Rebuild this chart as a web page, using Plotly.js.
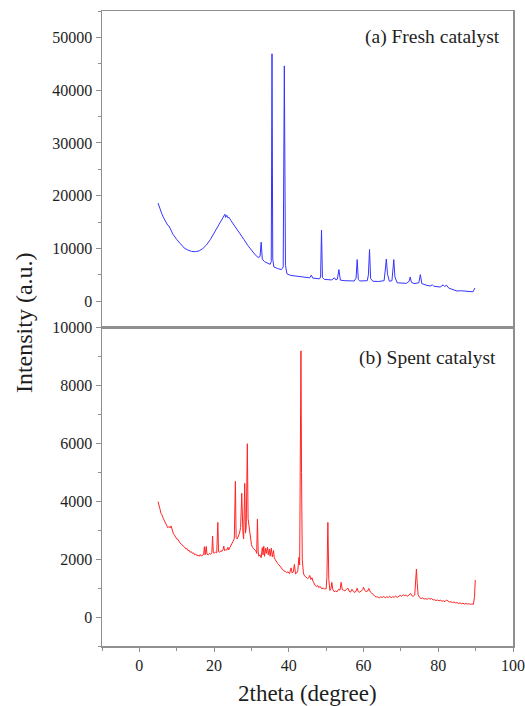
<!DOCTYPE html>
<html>
<head>
<meta charset="utf-8">
<script src="https://cdn.plot.ly/plotly-3.0.1.min.js"></script>
<style>
  html, body { margin: 0; padding: 0; background: #fff; }
  #chart { width: 525px; height: 706px; }
</style>
</head>
<body>
<div id="chart"></div>
<script>
// XRD pattern of the fresh catalyst: 2theta (degree) and intensity (a.u.)
const freshTheta = [
  5.0, 5.5, 6.0, 6.5, 7.0, 7.6, 7.9, 8.2, 9.0, 10.0, 11.0, 12.0, 13.0, 14.0, 15.0,
  16.0, 17.0, 18.0, 19.0, 20.0, 21.0, 22.0, 22.6, 22.9, 23.1, 23.4, 23.7, 24.0, 24.5,
  25.0, 26.0, 27.0, 28.0, 29.0, 30.0, 31.0, 31.8, 32.3, 32.6, 32.9, 33.5, 34.5, 35.0,
  35.3, 35.5, 35.7, 36.0, 37.0, 38.0, 38.5, 38.8, 39.1, 39.5, 40.5, 42.0, 44.0, 45.6,
  46.0, 46.4, 48.2, 48.5, 48.75, 49.0, 49.5, 51.5, 52.2, 52.6, 53.0, 53.4, 53.8, 55.0,
  57.5, 58.0, 58.3, 58.6, 59.0, 61.0, 61.3, 61.6, 61.9, 62.5, 64.0, 65.5, 65.9, 66.1,
  66.4, 66.9, 67.6, 67.9, 68.1, 68.4, 69.0, 71.5, 72.2, 72.5, 72.8, 73.5, 74.8, 75.2,
  75.6, 77.0, 78.0, 78.4, 78.8, 80.5, 81.3, 81.7, 82.2, 82.8, 84.0, 85.0, 86.0, 87.0,
  88.5, 89.3, 89.8
];
const freshIntensity = [
  18600, 17500, 16600, 15800, 15100, 14400, 14300, 13800, 12700, 11700, 10800, 10100, 9700, 9450, 9400,
  9550, 10000, 10700, 11700, 12900, 14100, 15200, 15900, 16500, 15900, 16300, 15800, 15900, 15300,
  14800, 13900, 12800, 11700, 10600, 9600, 8800, 8300, 8500, 11200, 8000, 7500, 7200, 7000,
  7500, 46900, 8000, 6500, 6200, 6000, 6500, 44600, 6800, 5200, 4900, 4750, 4600, 4450,
  4950, 4400, 4250, 4600, 13500, 4500, 4150, 4050, 4450, 4050, 4200, 6000, 4000, 3900,
  3850, 4400, 7900, 4100, 3850, 3900, 5000, 9800, 4300, 3800, 3750, 3900, 6500, 8000,
  5200, 3800, 3900, 6500, 7900, 4600, 3500, 3400, 3800, 4600, 3600, 3350, 3500, 5050,
  3350, 3000, 2900, 3150, 2850, 2700, 3100, 2800, 3050, 2500, 2200, 1950, 2000, 1900,
  1750, 1800, 2500
];

// XRD pattern of the spent catalyst
const spentTheta = [
  5.0, 5.2, 5.5, 5.8, 6.1, 6.4, 6.7, 7.0, 7.3, 7.6, 7.9, 8.2, 8.5, 8.8, 9.1, 9.4, 9.7,
  10.0, 10.3, 10.6, 10.9, 11.2, 11.5, 11.8, 12.1, 12.4, 12.7, 13.0, 13.3, 13.6, 13.9,
  14.2, 14.5, 14.8, 15.1, 15.4, 15.7, 16.0, 16.3, 16.6, 16.9, 17.2, 17.4, 17.6, 17.9,
  18.1, 18.5, 18.8, 19.1, 19.4, 19.6, 19.8, 20.1, 20.4, 20.7, 21.0, 21.2, 21.5, 21.8,
  22.1, 22.4, 22.6, 22.8, 23.1, 23.4, 23.7, 23.9, 24.2, 24.5, 24.8, 25.1, 25.4, 25.7,
  25.9, 26.2, 26.5, 26.8, 27.1, 27.4, 27.7, 27.9, 28.2, 28.4, 28.6, 28.9, 29.1, 29.4,
  29.7, 30.0, 30.3, 30.6, 30.9, 31.2, 31.4, 31.6, 31.8, 32.0, 32.3, 32.6, 32.9, 33.1,
  33.3, 33.5, 33.8, 34.0, 34.3, 34.5, 34.8, 35.0, 35.3, 35.6, 35.9, 36.1, 36.4, 36.7,
  37.0, 37.4, 37.8, 38.2, 38.6, 39.0, 39.4, 39.8, 40.2, 40.6, 40.9, 41.2, 41.5, 41.8,
  42.1, 42.4, 42.7, 42.9, 43.1, 43.25, 43.4, 43.6, 43.9, 44.2, 44.6, 45.0, 45.3, 45.6,
  45.9, 46.2, 46.5, 46.8, 47.1, 47.4, 47.7, 48.0, 48.4, 48.8, 49.2, 49.6, 50.0, 50.2,
  50.45, 50.7, 51.0, 51.3, 51.5, 51.8, 52.1, 52.5, 52.9, 53.3, 53.7, 54.0, 54.3, 54.6,
  55.0, 55.4, 55.8, 56.1, 56.5, 56.9, 57.3, 57.7, 58.0, 58.3, 58.6, 59.0, 59.4, 59.8,
  60.0, 60.3, 60.7, 61.1, 61.4, 61.8, 62.2, 62.6, 63.0, 63.4, 63.8, 64.2, 64.6, 65.0,
  65.4, 65.8, 66.2, 66.6, 67.0, 67.4, 67.8, 68.2, 68.6, 69.0, 69.4, 69.8, 70.2, 70.6,
  71.0, 71.4, 71.8, 72.2, 72.6, 72.9, 73.3, 73.7, 74.0, 74.15, 74.35, 74.6, 75.0, 75.4,
  75.8, 76.2, 76.6, 77.0, 77.4, 77.8, 78.2, 78.6, 79.0, 79.4, 79.8, 80.2, 80.6, 81.0,
  81.4, 81.8, 82.2, 82.6, 83.0, 83.4, 83.8, 84.2, 84.6, 85.0, 85.4, 85.8, 86.2, 86.6,
  87.0, 87.4, 87.8, 88.2, 88.6, 89.0, 89.4, 89.7, 89.9
];
const spentIntensity = [
  3990, 3850, 3740, 3580, 3520, 3410, 3340, 3270, 3200, 3090, 3130, 3080, 3150, 3000, 2880, 2830, 2760,
  2700, 2690, 2600, 2560, 2520, 2490, 2430, 2420, 2360, 2370, 2300, 2310, 2240, 2260,
  2200, 2220, 2150, 2180, 2120, 2140, 2100, 2160, 2110, 2140, 2160, 2430, 2150, 2440,
  2170, 2150, 2200, 2170, 2230, 2800, 2220, 2210, 2250, 2220, 3270, 2260, 2240, 2290,
  2270, 2330, 2450, 2290, 2330, 2310, 2410, 2320, 2400, 2450, 2520, 2600, 2700, 4690,
  2750, 2700, 2800, 2900, 3100, 4280, 2950, 2700, 4620, 2900, 3100, 5990, 3400, 3050,
  2650, 2500, 2400, 2350, 2300, 2280, 2200, 3390, 2250, 2100, 2150, 2050, 2400, 2150,
  2450, 2100, 2380, 2200, 2420, 2150, 2350, 2100, 2380, 2080, 2300, 2050, 1980, 1900,
  1850, 1800, 1720, 1670, 1600, 1580, 1540, 1560, 1500, 1700, 1520, 1560, 1820, 1490,
  1520, 1600, 2060, 1800, 6000, 9200, 5000, 2000, 1520, 1420, 1380, 1330, 1350, 1440,
  1300, 1360, 1230, 1130, 1080, 1050, 1100, 1020, 1060, 980, 1000, 970, 980, 1400,
  3270, 1300, 920, 1000, 1200, 950, 880, 900, 870, 960, 930, 1200, 950, 930,
  900, 960, 1000, 900, 860, 960, 880, 850, 900, 1000, 870, 860, 900, 950,
  1030, 920, 880, 900, 990, 870, 830, 760, 720, 690, 700, 660, 700, 680,
  710, 670, 700, 680, 720, 670, 700, 690, 720, 680, 730, 750, 720, 770,
  740, 760, 720, 770, 820, 740, 720, 760, 1300, 1660, 1200, 780, 680, 640,
  660, 620, 640, 610, 650, 620, 640, 590, 600, 570, 590, 560, 580, 550,
  560, 530, 590, 540, 520, 530, 500, 520, 490, 500, 470, 490, 460, 480,
  450, 470, 450, 460, 440, 450, 440, 700, 1280
];

const panelLabels = ['(a) Fresh catalyst', '(b) Spent catalyst'];
const xTitle = '2theta (degree)';
const yTitle = 'Intensity (a.u.)';

const serif = '"Liberation Serif", serif';
const frameColor = '#8f8f8f';
const textColor = '#1e1e1e';
const tickFont = { family: serif, size: 16, color: textColor };

const traces = [
  {
    x: freshTheta, y: freshIntensity, xaxis: 'x2', yaxis: 'y2',
    type: 'scatter', mode: 'lines',
    line: { color: '#3535ff', width: 1 },
    hoverinfo: 'x+y', showlegend: false
  },
  {
    x: spentTheta, y: spentIntensity, xaxis: 'x', yaxis: 'y',
    type: 'scatter', mode: 'lines',
    line: { color: '#ff2424', width: 1 },
    hoverinfo: 'x+y', showlegend: false
  }
];

const split = 0.5013;

const layout = {
  width: 525, height: 706,
  margin: { l: 102, r: 12, t: 11, b: 60 },
  paper_bgcolor: '#ffffff', plot_bgcolor: '#ffffff',
  font: { family: serif, color: textColor },
  xaxis: {
    domain: [0, 1], anchor: 'y',
    range: [-10, 100], tickmode: 'linear', tick0: 0, dtick: 20,
    ticks: 'outside', ticklen: 4, tickwidth: 1, tickcolor: frameColor,
    minor: { ticks: 'outside', dtick: 10, tick0: 0, ticklen: 3, tickcolor: frameColor },
    showline: true, linecolor: frameColor, linewidth: 1.5, mirror: true,
    showgrid: false, zeroline: false, tickfont: tickFont, tickformat: 'd'
  },
  xaxis2: {
    domain: [0, 1], anchor: 'y2', matches: 'x',
    range: [-10, 100], showticklabels: false, ticks: '',
    showline: true, linecolor: frameColor, linewidth: 1.5, mirror: true,
    showgrid: false, zeroline: false
  },
  yaxis: {
    domain: [0, split], anchor: 'x',
    range: [-1000, 10000], tickmode: 'linear', tick0: 0, dtick: 2000,
    ticks: 'outside', ticklen: 5, tickwidth: 1, tickcolor: frameColor,
    minor: { ticks: 'outside', dtick: 1000, tick0: 0, ticklen: 3, tickcolor: frameColor },
    showline: true, linecolor: frameColor, linewidth: 1.5, mirror: true,
    showgrid: false, zeroline: false, tickfont: tickFont, tickformat: 'd'
  },
  yaxis2: {
    domain: [split, 1], anchor: 'x2',
    range: [-5000, 55000], tickmode: 'linear', tick0: 0, dtick: 10000,
    ticks: 'outside', ticklen: 5, tickwidth: 1, tickcolor: frameColor,
    minor: { ticks: 'outside', dtick: 5000, tick0: 0, ticklen: 3, tickcolor: frameColor },
    showline: true, linecolor: frameColor, linewidth: 1.5, mirror: true,
    showgrid: false, zeroline: false, tickfont: tickFont, tickformat: 'd'
  },
  annotations: [
    {
      text: panelLabels[0], xref: 'paper', yref: 'paper',
      x: 0.9732, y: 0.959, xanchor: 'right', yanchor: 'middle',
      showarrow: false, font: { family: serif, size: 19.5, color: textColor }
    },
    {
      text: panelLabels[1], xref: 'paper', yref: 'paper',
      x: 0.9635, y: 0.4535, xanchor: 'right', yanchor: 'middle',
      showarrow: false, font: { family: serif, size: 19.5, color: textColor }
    },
    {
      text: yTitle, xref: 'paper', yref: 'paper',
      x: -0.19, y: 0.51, xanchor: 'center', yanchor: 'middle', textangle: -90,
      showarrow: false, font: { family: serif, size: 24, color: textColor }
    },
    {
      text: xTitle, xref: 'paper', yref: 'paper',
      x: 0.5, y: -0.075, xanchor: 'center', yanchor: 'middle',
      showarrow: false, font: { family: serif, size: 23, color: textColor }
    }
  ]
};

Plotly.newPlot('chart', traces, layout, { displayModeBar: false, staticPlot: true });
</script>
</body>
</html>
